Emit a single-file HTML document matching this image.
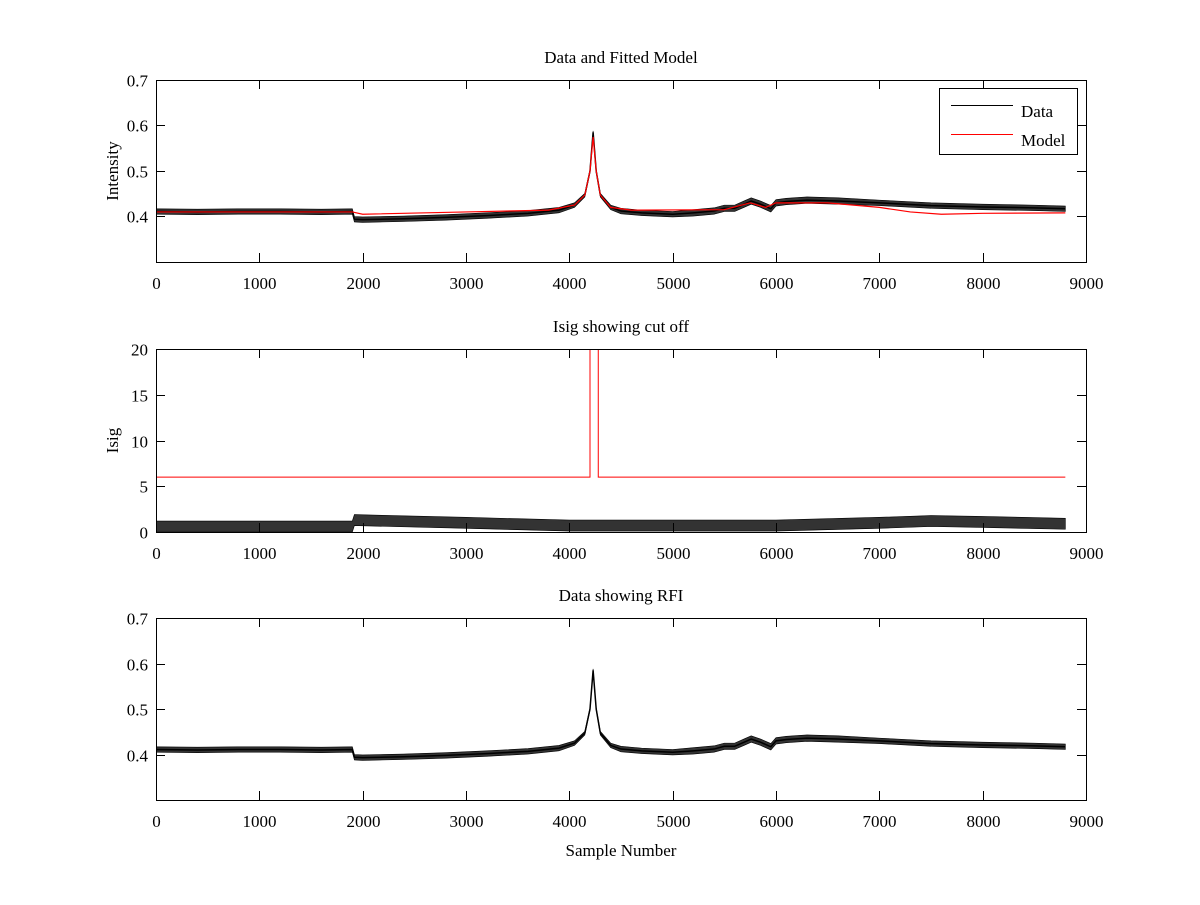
<!DOCTYPE html>
<html><head><meta charset="utf-8"><style>
body{margin:0;background:#fff}
svg text{font-family:"Liberation Serif",serif;font-size:17px;fill:#000}
</style></head><body>
<svg id="fig" width="1200" height="900" xmlns="http://www.w3.org/2000/svg"></svg>
<script>
// ---- data ----
const xTicks = [0,1000,2000,3000,4000,5000,6000,7000,8000,9000];
const intTicks = [0.4,0.5,0.6,0.7];
const isigTicks = [0,5,10,15,20];
const dataX = [0,400,800,1200,1600,1900,1920,2000,2400,2800,3200,3600,3900,4050,4150,4200,4230,4260,4300,4400,4500,4700,5000,5200,5400,5500,5600,5700,5760,5850,5950,6000,6100,6300,6600,7000,7500,8000,8500,8800];
const dataY = [0.411,0.410,0.411,0.411,0.410,0.411,0.394,0.393,0.395,0.398,0.402,0.407,0.414,0.425,0.447,0.50,0.585,0.50,0.447,0.420,0.412,0.408,0.405,0.408,0.412,0.418,0.418,0.428,0.434,0.427,0.417,0.430,0.433,0.436,0.434,0.430,0.424,0.421,0.419,0.417];
const dataNoise = [0.006,0.006,0.006,0.006,0.006,0.006,0.006,0.006,0.006,0.006,0.006,0.006,0.006,0.005,0.004,0.003,0.003,0.003,0.004,0.005,0.006,0.006,0.006,0.007,0.007,0.007,0.007,0.007,0.007,0.007,0.007,0.007,0.007,0.007,0.007,0.006,0.006,0.006,0.006,0.006];
const modelX = [0,1900,2000,3000,3800,4050,4150,4200,4230,4260,4300,4400,4600,5500,5750,5900,6000,6500,7000,7300,7600,8000,8800];
const modelY = [0.410,0.410,0.405,0.410,0.414,0.425,0.447,0.50,0.575,0.50,0.447,0.420,0.414,0.415,0.430,0.420,0.430,0.430,0.420,0.410,0.405,0.407,0.408];
const isigX = [0,1900,1920,3000,4000,5000,6000,7000,7500,8000,8800];
const isigY = [0.6,0.6,1.3,1.0,0.7,0.7,0.7,1.0,1.2,1.1,0.9];
const isigNoise = [0.6,0.6,0.6,0.6,0.6,0.6,0.6,0.6,0.6,0.6,0.6];
const cutX = [0,4200,4200,4280,4280,8800];
const cutY = [6,6,25,25,6,6];

const NS="http://www.w3.org/2000/svg";
const svg=document.getElementById('fig');
function mk(tag,attrs,parent){const e=document.createElementNS(NS,tag);for(const k in attrs)e.setAttribute(k,attrs[k]);(parent||svg).appendChild(e);return e;}
const X0=156,X1=1086,XMAX=9000;
const sx=v=>X0+(X1-X0)*v/XMAX;

function panel(name,top,bot,ymin,ymax,yticks,title,ylabel,fmt){
  const g=mk('g',{});
  
  
  const sy=v=>bot-(bot-top)*(v-ymin)/(ymax-ymin);
  const clipId='c'+name;
  const cp=mk('clipPath',{id:clipId},g);mk('rect',{x:X0,y:top,width:X1-X0,height:bot-top},cp);
  const plot=mk('g',{'clip-path':'url(#'+clipId+')'},g);
  const ax=mk('rect',{x:X0+0.5,y:top+0.5,width:X1-X0,height:bot-top,fill:'none',stroke:'#000','stroke-width':1},g);
  
  
  xTicks.forEach(t=>{const x=Math.round(sx(t))+0.5;
    mk('line',{x1:x,x2:x,y1:bot,y2:bot-9,stroke:'#000'},g);mk('line',{x1:x,x2:x,y1:top,y2:top+9,stroke:'#000'},g);
    const tx=mk('text',{x:x,y:bot+27,'text-anchor':'middle'},g);tx.textContent=t;
    
    });
  yticks.forEach(t=>{const y=Math.round(sy(t))+0.5;
    mk('line',{x1:X0,x2:X0+9,y1:y,y2:y,stroke:'#000'},g);mk('line',{x1:X1,x2:X1-9,y1:y,y2:y,stroke:'#000'},g);
    const tx=mk('text',{x:X0-8,y:y+6,'text-anchor':'end'},g);tx.textContent=fmt(t);
    
    });
  const tt=mk('text',{x:(X0+X1)/2,y:top-17,'text-anchor':'middle'},g);tt.textContent=title;
  
  
  if(ylabel){const yl=mk('text',{x:0,y:0,'text-anchor':'middle',transform:`translate(118,${(top+bot)/2}) rotate(-90)`},g);yl.textContent=ylabel;
    
    }
  return {plot,sy};
}
function band(p,xs,ys,ns,name){
  let up=xs.map((x,i)=>sx(x)+','+p.sy(ys[i]+ns[i])), lo=xs.map((x,i)=>sx(x)+','+p.sy(ys[i]-ns[i])).reverse();
  const b=mk('polygon',{points:up.concat(lo).join(' '),fill:'#000','fill-opacity':0.8,stroke:'#000','stroke-width':0.6},p.plot);
  
  
}
function line(p,xs,ys,col,name,w){
  const l=mk('polyline',{points:xs.map((x,i)=>sx(x)+','+p.sy(ys[i])).join(' '),fill:'none',stroke:col,'stroke-width':w||1},p.plot);
  
  
}
const f1=v=>v.toFixed(1), f0=v=>String(v);
const p1=panel('panel-fitted-model',80,262,0.3,0.7,intTicks,'Data and Fitted Model','Intensity',f1);
band(p1,dataX,dataY,dataNoise,'data-series');line(p1,dataX,dataY,'#000','data-line',1.5);
line(p1,modelX,modelY,'#f00','model-line',1.2);
const p2=panel('panel-isig',349,532,0,20,isigTicks,'Isig showing cut off','Isig',f0);
band(p2,isigX,isigY,isigNoise,'isig-series');
line(p2,cutX,cutY,'#f00','cutoff-line');
const p3=panel('panel-rfi',618,800,0.3,0.7,intTicks,'Data showing RFI','',f1);
band(p3,dataX,dataY,dataNoise,'rfi-data-series');line(p3,dataX,dataY,'#000','rfi-data-line',1.5);
const xl=mk('text',{x:621,y:856,'text-anchor':'middle'});xl.textContent='Sample Number';


// legend
const lg=mk('g',{});


mk('rect',{x:939.5,y:88.5,width:138,height:66,fill:'#fff',stroke:'#000'},lg);
mk('line',{x1:951,x2:1013,y1:105.5,y2:105.5,stroke:'#000'},lg);
mk('line',{x1:951,x2:1013,y1:134.5,y2:134.5,stroke:'#f00'},lg);
const t1=mk('text',{x:1021,y:117},lg);t1.textContent='Data';


const t2=mk('text',{x:1021,y:146},lg);t2.textContent='Model';


</script>
</body></html>
